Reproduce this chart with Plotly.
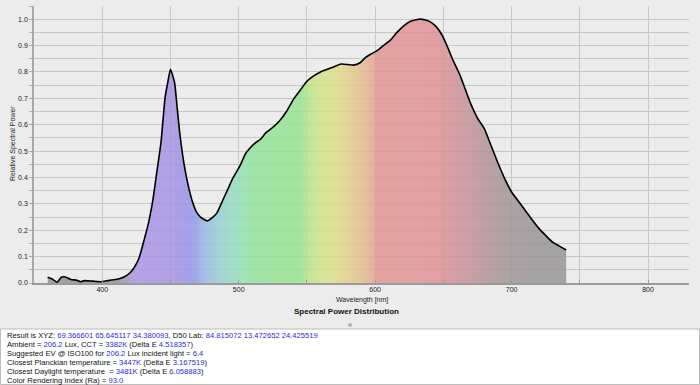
import plotly.graph_objects as go

# ---------------- data ----------------
wavelength = [360, 363, 367, 370, 373, 377, 381, 384, 387, 393, 399, 405, 411, 416, 420,
              423, 427, 430, 434, 437, 440, 443, 446, 448, 450, 453, 455, 457, 460, 463,
              466, 469, 472, 475, 477, 480, 484, 488, 492, 496, 501, 505, 508, 512, 516,
              520, 525, 530, 535, 540, 545, 550, 555, 560, 565, 570, 575, 580, 584, 589,
              593, 597, 602, 606, 611, 616, 621, 626, 632, 637, 641, 645, 649, 653, 657,
              662, 666, 670, 675, 680, 685, 690, 695, 700, 705, 710, 715, 720, 725, 730,
              735, 740]
power = [0.022, 0.016, 0.003, 0.022, 0.023, 0.013, 0.011, 0.005, 0.009, 0.007, 0.005, 0.010, 0.014, 0.023, 0.037,
         0.055, 0.095, 0.150, 0.230, 0.310, 0.420, 0.530, 0.700, 0.760, 0.810, 0.760, 0.660, 0.560, 0.450, 0.370,
         0.310, 0.270, 0.250, 0.240, 0.235, 0.245, 0.265, 0.310, 0.355, 0.400, 0.445, 0.490, 0.510, 0.530, 0.545,
         0.570, 0.590, 0.615, 0.650, 0.695, 0.730, 0.765, 0.785, 0.800, 0.810, 0.820, 0.830, 0.828, 0.826, 0.835,
         0.855, 0.868, 0.883, 0.900, 0.920, 0.950, 0.975, 0.992, 1.000, 0.997, 0.988, 0.970, 0.940, 0.895, 0.845,
         0.790, 0.735, 0.680, 0.625, 0.585, 0.520, 0.455, 0.395, 0.345, 0.310, 0.275, 0.240, 0.207, 0.180, 0.155,
         0.140, 0.125]

x_ticks = [400, 500, 600, 700, 800]

info_lines = [
    [("Result is XYZ: ", 0), ("69.366601 65.645117 34.380093", 1), (", D50 Lab: ", 0), ("84.815072 13.472652 24.425519", 1)],
    [("Ambient = ", 0), ("206.2", 1), (" Lux, CCT = ", 0), ("3382K", 1), (" (Delta E ", 0), ("4.518357", 1), (")", 0)],
    [("Suggested EV @ ISO100 for ", 0), ("206.2", 1), (" Lux incident light = ", 0), ("6.4", 1)],
    [("Closest Planckian temperature = ", 0), ("3447K", 1), (" (Delta E ", 0), ("3.167519", 1), (")", 0)],
    [("Closest Daylight temperature  = ", 0), ("3481K", 1), (" (Delta E ", 0), ("6.058883", 1), (")", 0)],
    [("Color Rendering Index (Ra) = ", 0), ("93.0", 1)],
]

# spectrum colours (wavelength -> apparent colour)
spectrum = [
    (360, (160, 160, 160)), (410, (163, 160, 168)), (425, (182, 162, 230)), (455, (176, 160, 228)),
    (463, (162, 162, 234)), (468, (160, 168, 232)), (475, (165, 192, 228)), (487, (165, 212, 212)),
    (500, (162, 225, 195)), (512, (160, 228, 165)), (545, (165, 228, 160)), (553, (200, 230, 152)),
    (565, (218, 228, 152)), (575, (226, 220, 152)), (585, (228, 205, 155)), (596, (230, 185, 160)),
    (599, (230, 176, 162)), (601, (228, 162, 162)), (645, (226, 160, 162)), (670, (200, 160, 165)),
    (698, (172, 162, 164)), (720, (165, 162, 162)), (740, (165, 162, 162)),
]

# ---------------- layout helpers ----------------
W, H = 700, 385
L, R, T, B = 34, 11, 6, 102
PW, PH = W - L - R, H - T - B
BG = 236
ALPHA = 0.82


def px(x):
    return (x - L) / PW


def py(y):
    return (H - B - y) / PH


def rgba(c):
    comp = [max(0, min(255, round((v - (1 - ALPHA) * BG) / ALPHA))) for v in c]
    return f"rgba({comp[0]},{comp[1]},{comp[2]},{ALPHA})"


lo, hi = wavelength[0], wavelength[-1]
colorscale = [[(w - lo) / (hi - lo), rgba(c)] for w, c in spectrum]

fig = go.Figure()
fig.add_trace(go.Scatter(
    x=wavelength, y=power, mode="lines",
    line=dict(color="black", width=1.6, shape="spline", smoothing=0.5),
    fill="tozeroy",
    fillgradient=dict(type="horizontal", colorscale=colorscale, start=lo, stop=hi),
    hoverinfo="skip", showlegend=False,
))

FONT = "Liberation Sans, Arial, sans-serif"
GRID = "#c8c8c8"

fig.update_layout(
    width=W, height=H,
    margin=dict(l=L, r=R, t=T, b=B, pad=0),
    paper_bgcolor="#ececec", plot_bgcolor="#ececec",
    font=dict(family=FONT, size=7, color="#222"),
    xaxis=dict(
        range=[350, 830], tickvals=x_ticks, ticktext=[str(v) for v in x_ticks],
        showgrid=True, gridcolor=GRID, gridwidth=1,
        showline=True, linecolor="#9a9a9a", linewidth=2,
        ticks="inside", ticklen=3, tickcolor="#9a9a9a",
        minor=dict(dtick=50, tick0=0, showgrid=True, gridcolor=GRID, ticks="inside", ticklen=3, tickcolor="#9a9a9a"),
        zeroline=False, tickfont=dict(size=7, color="#222"), ticklabelstandoff=-1,
        fixedrange=True,
    ),
    yaxis=dict(
        range=[0, 1.05], dtick=0.1, tick0=0, tickformat=".1f",
        showgrid=True, gridcolor=GRID, gridwidth=1,
        showline=True, linecolor="#aaaaaa", linewidth=1.5,
        ticks="outside", ticklen=3, tickcolor="#aaaaaa",
        minor=dict(dtick=0.05, showgrid=True, gridcolor=GRID, ticks="outside", ticklen=3, tickcolor="#aaaaaa"),
        zeroline=False, tickfont=dict(size=7, color="#222"),
        fixedrange=True,
    ),
)

shapes = [
    dict(type="rect", xref="paper", yref="paper", x0=px(0.5), x1=px(699.5), y0=py(329), y1=py(384.5),
         line=dict(color="#bdbdbd", width=1), fillcolor="white", layer="below"),
    dict(type="circle", xref="paper", yref="paper", x0=px(348), x1=px(352), y0=py(323), y1=py(327),
         line=dict(width=0), fillcolor="#b5b5b5"),
]
fig.update_layout(shapes=shapes)

ann = []
ann.append(dict(text="Relative Spectral Power", x=px(13), y=py(144), xref="paper", yref="paper",
                showarrow=False, textangle=-90, font=dict(size=7, color="#222"),
                xanchor="center", yanchor="middle"))
ann.append(dict(text="Wavelength [nm]", x=px(361.5), y=py(300), xref="paper", yref="paper",
                showarrow=False, font=dict(size=7, color="#222"), xanchor="center", yanchor="middle"))
ann.append(dict(text="<b>Spectral Power Distribution</b>", x=px(346), y=py(311), xref="paper", yref="paper",
                showarrow=False, font=dict(size=8, color="#111"), xanchor="center", yanchor="middle"))

BLUE = "#2a2ad8"
line_y = [335, 344, 353.2, 362.5, 371.6, 380.5]
for parts, yy in zip(info_lines, line_y):
    txt = "".join(f'<span style="color:{BLUE}">{s}</span>' if blue else s for s, blue in parts)
    ann.append(dict(text=txt, x=px(5), y=py(yy), xref="paper", yref="paper", showarrow=False,
                    font=dict(size=7.6, color="#111"), xanchor="left", yanchor="middle", align="left"))
fig.update_layout(annotations=ann)

fig.write_html("out.html", config={"displayModeBar": False},
               post_script="document.body.style.margin='0';document.body.style.overflow='hidden';")
